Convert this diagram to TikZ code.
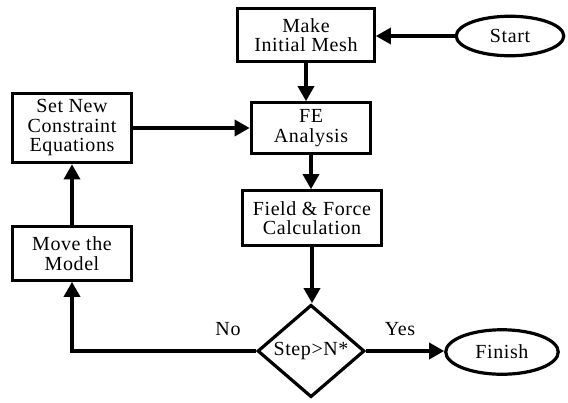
\documentclass[tikz,border=0pt]{standalone}
\usepackage{fontspec}
\setmainfont[LetterSpace=3]{Liberation Serif}
\usetikzlibrary{shapes.geometric,arrows.meta}
\tikzset{
  txt/.style={font=\fontsize{20}{19.5}\selectfont},
  box/.style={draw,line width=3.2pt,rectangle,inner sep=0pt,align=center,txt},
  oval/.style={draw,line width=3.2pt,ellipse,inner sep=0pt,align=center,txt},
  decide/.style={draw,line width=3.2pt,diamond,inner sep=0pt,align=center,txt},
  conn/.style={line width=3.4pt,-{Triangle[length=15pt,width=16pt]}},
  lbl/.style={txt,inner sep=0pt}
}
\begin{document}
\begin{tikzpicture}[x=1pt,y=-1pt]
\useasboundingbox (0,0) rectangle (568,402);
\node[box,minimum width=136.5pt,minimum height=52.5pt] (mesh) at (306,35) {Make\\Initial Mesh};
\node[box,minimum width=119.5pt,minimum height=50.5pt] (fe) at (311,128) {FE\\Analysis};
\node[box,minimum width=138.5pt,minimum height=54.5pt] (field) at (312,218) {Field \& Force\\Calculation};
\node[box,minimum width=119.5pt,minimum height=69.5pt] (setnew) at (72,128) {Set New\\Constraint\\Equations};
\node[box,minimum width=119.5pt,minimum height=53.5pt] (move) at (72,253.5) {Move the\\Model};
\node[decide,minimum width=107pt,minimum height=92pt] (dec) at (311,351) {Step>N*};
\node[oval,minimum width=107.5pt,minimum height=39.5pt] (start) at (510,36) {Start};
\node[oval,minimum width=112.5pt,minimum height=44.5pt] (finish) at (502,352) {Finish};
\node[lbl] (no) at (228,329) {No};
\node[lbl] (yes) at (400,329) {Yes};
\draw[conn] (start.west) -- (start.west -| mesh.east);
\draw[conn] (mesh.south) -- (mesh.south |- fe.north);
\draw[conn] (fe.south) -- (fe.south |- field.north);
\draw[conn] (field.south) -- (field.south |- dec.north);
\draw[conn] (setnew.east) -- (setnew.east -| fe.west);
\draw[conn] (move.north) -- (setnew.south);
\draw[conn] (dec.west) -- (dec.west -| move.south) -- (move.south);
\draw[conn] (dec.east) -- (dec.east -| finish.west);
\end{tikzpicture}
\end{document}
